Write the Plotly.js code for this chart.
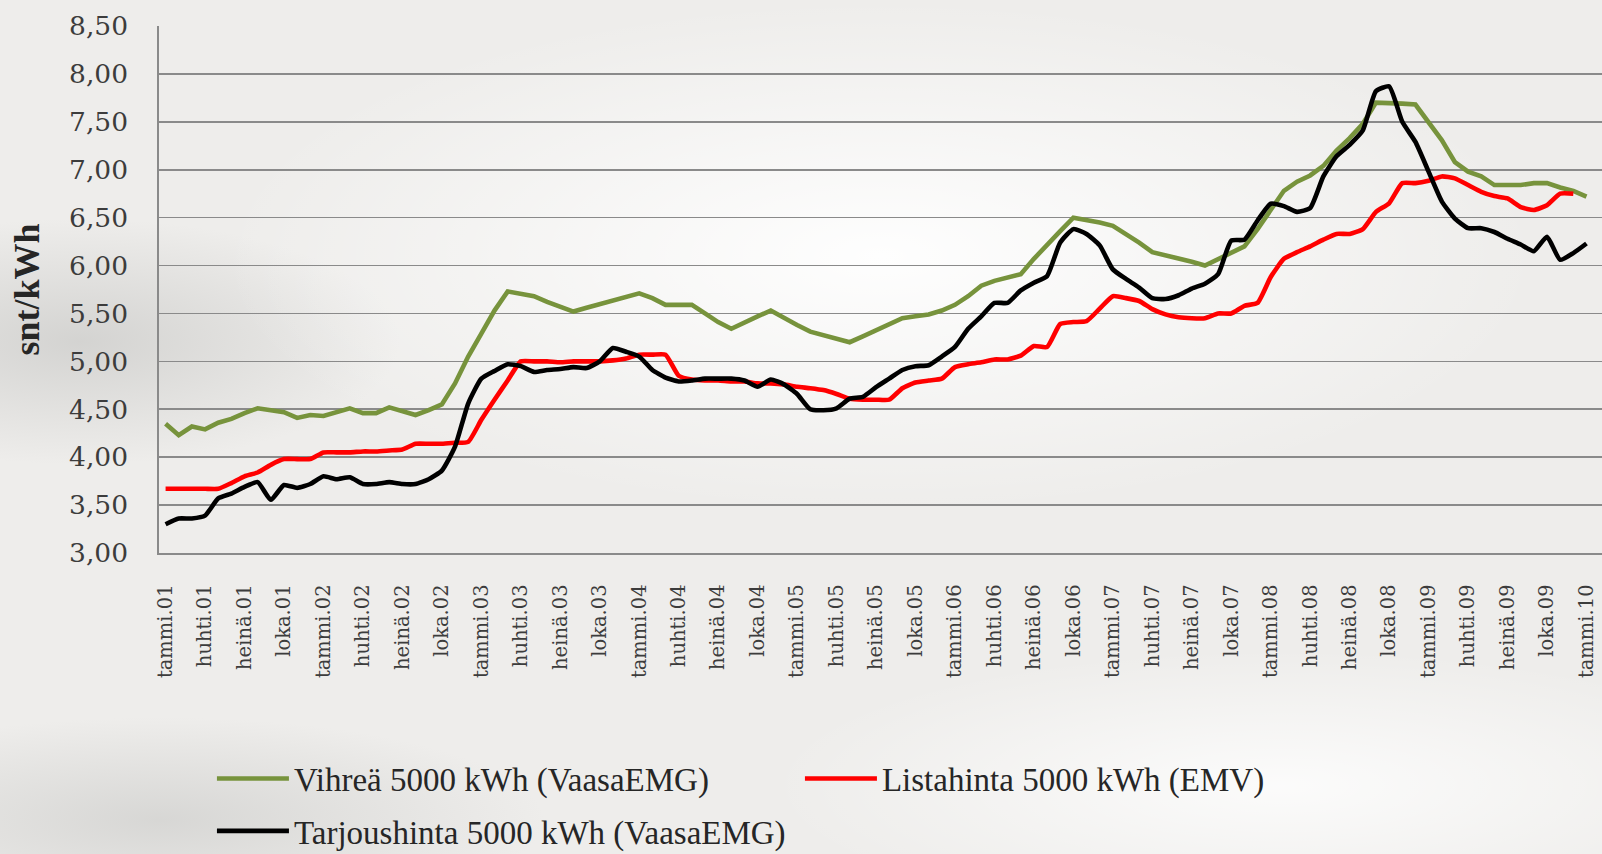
<!DOCTYPE html>
<html>
<head>
<meta charset="utf-8">
<script src="https://cdn.plot.ly/plotly-3.0.1.min.js"></script>
<style>
  html, body { margin: 0; padding: 0; }
  #chart {
    width: 1602px; height: 854px;
    background:
      radial-gradient(ellipse 55% 40% at 55% 30%, rgba(255,255,255,0.95), rgba(255,255,255,0) 75%),
      radial-gradient(ellipse 25% 18% at 5% 40%, rgba(190,190,188,0.55), rgba(190,190,188,0) 80%),
      radial-gradient(ellipse 30% 15% at 10% 96%, rgba(200,200,198,0.6), rgba(200,200,198,0) 80%),
      radial-gradient(ellipse 40% 20% at 80% 92%, rgba(255,255,255,0.8), rgba(255,255,255,0) 80%),
      #eeedeb;
  }
</style>
</head>
<body>
<div id="chart"></div>
<script>
// Finnish month abbreviations and years (Jan 2001 .. Jan 2010)
var monthNames = ["tammi","helmi","maalis","huhti","touko","kesä","heinä","elo","syys","loka","marras","joulu"];
var years = ["01","02","03","04","05","06","07","08","09","10"];

var categories = [];
years.forEach(function(y){ monthNames.forEach(function(m){ categories.push(m + "." + y); }); });
categories = categories.slice(0, 109);

// x tick labels: every third month
var tickLabels = categories.filter(function(c, i){ return i % 3 === 0; });

var seriesNames = [
  "Vihreä 5000 kWh (VaasaEMG)",
  "Listahinta 5000 kWh (EMV)",
  "Tarjoushinta 5000 kWh (VaasaEMG)"
];

var vihrea = [
  4.35,4.23,4.32,4.29,4.36,4.40,4.46,4.51,4.49,4.47,4.41,4.44,
  4.43,4.47,4.51,4.46,4.46,4.52,4.48,4.44,4.49,4.55,4.77,5.05,
  5.29,5.53,5.73,5.71,5.68,5.62,5.57,5.52,5.56,5.60,5.64,5.67,
  5.71,5.66,5.59,5.59,5.59,5.50,5.41,5.34,5.41,5.47,5.53,5.45,
  5.38,5.31,5.27,5.24,5.20,5.26,5.32,5.39,5.45,5.47,5.49,5.53,
  5.59,5.68,5.79,5.84,5.875,5.91,6.07,6.22,6.36,6.50,6.48,6.45,
  6.415,6.33,6.24,6.14,6.11,6.07,6.04,6.00,6.07,6.14,6.20,6.38,
  6.57,6.78,6.875,6.94,7.04,7.20,7.33,7.48,7.70,7.70,7.69,7.68,
  7.50,7.31,7.08,6.98,6.93,6.84,6.84,6.84,6.86,6.86,6.815,6.78,
  6.72
];

var listahinta = [
  3.67,3.67,3.67,3.67,3.67,3.73,3.80,3.84,3.92,3.98,3.98,3.98,
  4.05,4.05,4.05,4.06,4.06,4.07,4.08,4.14,4.14,4.14,4.15,4.16,
  4.39,4.60,4.80,5.00,5.00,5.00,4.99,5.00,5.00,5.00,5.01,5.03,
  5.07,5.07,5.07,4.85,4.81,4.80,4.80,4.79,4.79,4.77,4.77,4.76,
  4.735,4.72,4.70,4.66,4.61,4.60,4.60,4.60,4.72,4.78,4.80,4.82,
  4.94,4.97,4.99,5.02,5.02,5.06,5.16,5.15,5.39,5.41,5.42,5.55,
  5.68,5.66,5.63,5.545,5.49,5.46,5.45,5.45,5.50,5.50,5.58,5.61,
  5.88,6.07,6.14,6.20,6.27,6.33,6.33,6.38,6.56,6.65,6.86,6.86,
  6.885,6.93,6.91,6.84,6.77,6.725,6.70,6.61,6.58,6.63,6.75,6.75,
  null
];

var tarjoushinta = [
  3.30,3.36,3.36,3.39,3.57,3.62,3.69,3.74,3.555,3.71,3.68,3.72,
  3.80,3.77,3.79,3.72,3.72,3.74,3.72,3.72,3.77,3.86,4.11,4.56,
  4.82,4.90,4.97,4.95,4.89,4.91,4.92,4.94,4.93,5.00,5.14,5.10,
  5.05,4.91,4.83,4.79,4.80,4.82,4.82,4.82,4.80,4.735,4.81,4.76,
  4.66,4.50,4.49,4.51,4.61,4.63,4.73,4.82,4.91,4.95,4.96,5.05,
  5.15,5.34,5.47,5.61,5.61,5.74,5.82,5.89,6.24,6.38,6.33,6.21,
  5.96,5.86,5.77,5.66,5.65,5.69,5.76,5.81,5.91,6.26,6.27,6.47,
  6.645,6.62,6.56,6.60,6.93,7.14,7.26,7.41,7.82,7.87,7.50,7.29,
  6.98,6.67,6.49,6.39,6.39,6.35,6.28,6.22,6.15,6.30,6.06,6.13,
  6.23
];

var yTicks = [3.0,3.5,4.0,4.5,5.0,5.5,6.0,6.5,7.0,7.5,8.0,8.5];

var traces = [
  {x: categories, y: vihrea, name: seriesNames[0], type: "scatter", mode: "lines",
   line: {color: "#77933c", width: 4.6}, legend: "legend"},
  {x: categories, y: listahinta, name: seriesNames[1], type: "scatter", mode: "lines",
   line: {color: "#ff0000", width: 4.6, shape: "spline", smoothing: 0.5}, legend: "legend"},
  {x: categories, y: tarjoushinta, name: seriesNames[2], type: "scatter", mode: "lines",
   line: {color: "#000000", width: 4.6, shape: "spline", smoothing: 0.5}, legend: "legend2"}
];

var tickFont = {family: "DejaVu Serif", size: 26.5, color: "#3c3c3c"};
var legendFont = {family: "Liberation Serif", size: 33, color: "#262626"};

var layout = {
  width: 1602, height: 854,
  paper_bgcolor: "rgba(0,0,0,0)",
  plot_bgcolor: "rgba(0,0,0,0)",
  separators: ", ",
  margin: {l: 159, r: 0, t: 26, b: 301},
  showlegend: true,
  xaxis: {
    type: "category",
    range: [-0.5, 109.18],
    automargin: false,
    tickmode: "array",
    tickvals: tickLabels,
    ticktext: tickLabels,
    tickangle: -90,
    ticks: "",
    ticklabelstandoff: 22,
    tickfont: {family: "DejaVu Serif", size: 19.5, color: "#3c3c3c"},
    showgrid: false,
    showline: true, linecolor: "#8a8a8a", linewidth: 1.6,
    zeroline: false
  },
  yaxis: {
    range: [3, 8.5],
    automargin: false,
    tickmode: "array",
    tickvals: yTicks,
    tickformat: ".2f",
    ticks: "",
    ticklabelstandoff: 24,
    tickfont: tickFont,
    showgrid: true, gridcolor: "#8a8a8a", gridwidth: 1.6,
    showline: true, linecolor: "#8a8a8a", linewidth: 1.6,
    zeroline: false,
    title: {text: "snt/kWh", font: {family: "Liberation Serif", size: 36, color: "#262626", weight: "bold"}, standoff: 18}
  },
  legend: {
    orientation: "h", xref: "container", yref: "container",
    x: 0.1323, xanchor: "left", y: 0.0884, yanchor: "middle",
    entrywidth: 501, entrywidthmode: "pixels", itemwidth: 72,
    font: legendFont, bgcolor: "rgba(0,0,0,0)"
  },
  legend2: {
    orientation: "h", xref: "container", yref: "container",
    x: 0.1323, xanchor: "left", y: 0.0270, yanchor: "middle",
    itemwidth: 72,
    font: legendFont, bgcolor: "rgba(0,0,0,0)"
  }
};

Plotly.newPlot("chart", traces, layout, {displayModeBar: false, staticPlot: true});
</script>
</body>
</html>
